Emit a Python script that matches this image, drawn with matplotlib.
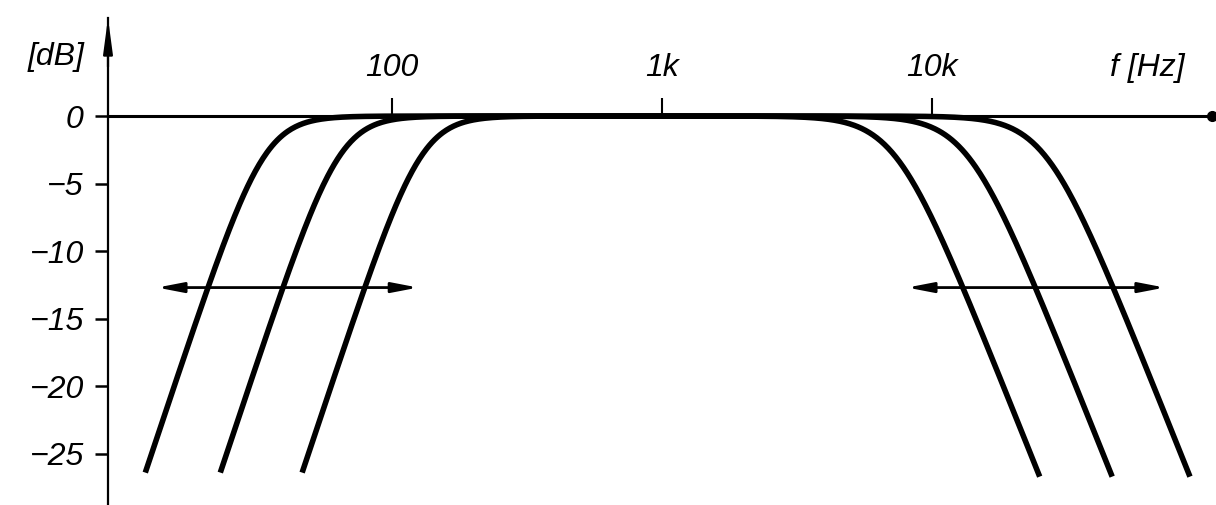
import numpy as np
import matplotlib
matplotlib.use("Agg")
import matplotlib.pyplot as plt
from matplotlib import font_manager

# --- data ---------------------------------------------------------------
# high-pass (bass cut) curves: corner frequencies in Hz, filter order
hp_corners = [33.6, 63.7, 128.0]
hp_order = 3
hp_end_db = -26.4
# low-pass (treble cut) curves: corner frequencies in Hz, filter order
lp_corners = [7330.0, 13600.0, 26400.0]
lp_order = 2.5
lp_end_db = -26.7
# double arrows showing the adjustable range (Hz) at a given level (dB)
arrow_level = -12.7
hp_arrow_span = [13.5, 125.0]
lp_arrow_span = [8090.0, 72800.0]

x_ticks = [100, 1000, 10000]
x_tick_labels = ["100", "1k", "10k"]
y_ticks = [0, -5, -10, -15, -20, -25]
y_tick_labels = ["0", "\u22125", "\u221210", "\u221215", "\u221220", "\u221225"]

# --- fonts --------------------------------------------------------------
available = {f.name for f in font_manager.fontManager.ttflist}
if "Liberation Sans Narrow" in available:
    family, tick_size, label_size = "Liberation Sans Narrow", 26, 26
else:
    family, tick_size, label_size = "Liberation Sans", 23, 23
plt.rcParams["font.family"] = [family, "DejaVu Sans"]
plt.rcParams["font.style"] = "italic"

W, H = 1216, 505
fig = plt.figure(figsize=(W / 100, H / 100), dpi=100)
fig.patch.set_facecolor("white")
ax = fig.add_axes([108 / W, 0, (1212 - 108) / W, (505 - 18) / H])
ax.set_xscale("log")
ax.set_xlim(8.88, 1.089e5)
ax.set_ylim(-28.8, 7.26)


def highpass_db(f, fc, n):
    return -10 * np.log10(1 + (fc / f) ** (2 * n))


def lowpass_db(f, fc, n):
    return -10 * np.log10(1 + (f / fc) ** (2 * n))


for fc in hp_corners:
    # frequency where the response reaches the end level
    f_end = fc / (10 ** (-hp_end_db / 10) - 1) ** (1 / (2 * hp_order))
    f = np.logspace(np.log10(f_end), np.log10(1000), 400)
    ax.plot(f, highpass_db(f, fc, hp_order), color="black", lw=4.0,
            solid_capstyle="butt", clip_on=False)

for fc in lp_corners:
    f_end = fc * (10 ** (-lp_end_db / 10) - 1) ** (1 / (2 * lp_order))
    f = np.logspace(np.log10(1000), np.log10(f_end), 400)
    ax.plot(f, lowpass_db(f, fc, lp_order), color="black", lw=4.0,
            solid_capstyle="butt", clip_on=False)

# range arrows
for span in (hp_arrow_span, lp_arrow_span):
    ax.annotate("", xy=(span[1], arrow_level), xytext=(span[0], arrow_level),
                arrowprops=dict(arrowstyle="<|-|>,head_length=1.3,head_width=0.25",
                                color="black", lw=2.0, mutation_scale=12,
                                shrinkA=0, shrinkB=0))

# axes: vertical axis on the left, frequency axis along 0 dB
for side in ("right", "bottom"):
    ax.spines[side].set_visible(False)
ax.spines["top"].set_position(("data", 0))
ax.spines["top"].set_linewidth(2.2)
ax.spines["left"].set_linewidth(1.6)
ax.patch.set_visible(False)

ax.xaxis.set_ticks_position("top")
ax.set_xticks(x_ticks)
ax.set_xticklabels(x_tick_labels, fontsize=tick_size, style="italic")
ax.xaxis.set_minor_locator(matplotlib.ticker.NullLocator())
ax.tick_params(axis="x", direction="out", length=13, width=1.5, pad=11)

ax.set_yticks(y_ticks)
ax.set_yticklabels(y_tick_labels, fontsize=tick_size, style="italic")
ax.tick_params(axis="y", direction="out", length=9.5, width=1.8, pad=8)

# arrowhead on the dB axis and end dot on the frequency axis
ax.annotate("", xy=(0, 1), xytext=(0, 0.9), xycoords="axes fraction",
            arrowprops=dict(arrowstyle="-|>,head_length=1.5,head_width=0.2",
                            color="black", lw=1.6, mutation_scale=14,
                            shrinkA=0, shrinkB=0))
ax.plot([ax.get_xlim()[1]], [0], "o", color="black", ms=7, clip_on=False)

fig.text(56 / W, 1 - 57 / H, "[dB]", fontsize=label_size, style="italic",
         ha="center", va="center")
fig.text(1147 / W, 1 - 68 / H, "f [Hz]", fontsize=label_size, style="italic",
         ha="center", va="center")

fig.savefig("out.png", dpi=100, facecolor="white")
